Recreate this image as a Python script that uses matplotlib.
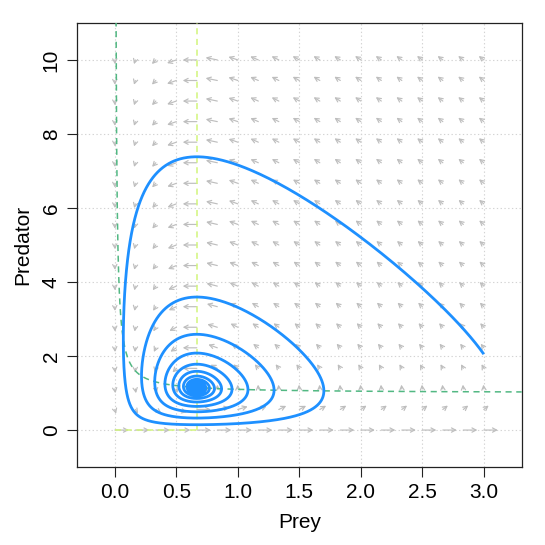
import numpy as np
import matplotlib
matplotlib.use("Agg")
import matplotlib.pyplot as plt
from matplotlib.patches import FancyArrowPatch

plt.rcParams['font.family'] = ['Liberation Sans', 'DejaVu Sans']

# ---- model (prey immigration Lotka-Volterra) ----
prey_growth = 1.0
predation = 1.0
prey_immigration = 0.1
pred_conversion = 3.0
pred_death = 2.0
start_state = [3.0, 2.05]
t_end = 60.0

# ---- axes / labels ----
x_ticks = [0.0, 0.5, 1.0, 1.5, 2.0, 2.5, 3.0]
x_tick_labels = ["0.0", "0.5", "1.0", "1.5", "2.0", "2.5", "3.0"]
y_ticks = [0, 2, 4, 6, 8, 10]
y_tick_labels = ["0", "2", "4", "6", "8", "10"]
x_label = "Prey"
y_label = "Predator"
field_x_range = [0.0, 3.0]
field_y_range = [0.0, 10.0]
field_points = 19


def deriv(s):
    x, y = s
    dx = prey_growth * x - predation * x * y + prey_immigration
    dy = pred_conversion * x * y - pred_death * y
    return np.array([dx, dy])


def rk4(s0, t1, h=0.002):
    s = np.array(s0, float)
    out = [s.copy()]
    for _ in range(int(t1 / h)):
        k1 = deriv(s)
        k2 = deriv(s + h / 2 * k1)
        k3 = deriv(s + h / 2 * k2)
        k4 = deriv(s + h * k3)
        s = s + h / 6 * (k1 + 2 * k2 + 2 * k3 + k4)
        out.append(s.copy())
    return np.array(out)


fig = plt.figure(figsize=(5.45, 5.45), dpi=100)
ax = fig.add_axes([77.3 / 545, 1 - 466.7 / 545, (521.7 - 77.3) / 545, (466.7 - 23.3) / 545])
ax.set_xlim(-0.305, 3.308)
ax.set_ylim(-0.99, 10.99)

# grid
for xv in x_ticks:
    ax.axvline(xv, color='#d3d3d3', lw=0.8, ls=(0, (1.2, 2.2)), zorder=1)
for yv in y_ticks:
    ax.axhline(yv, color='#d3d3d3', lw=0.8, ls=(0, (1.2, 2.2)), zorder=1)

# flow field (equal-length arrows in data units)
L = 0.114
for xv in np.linspace(field_x_range[0], field_x_range[1], field_points):
    for yv in np.linspace(field_y_range[0], field_y_range[1], field_points):
        d = deriv((xv, yv))
        n = np.hypot(d[0], d[1])
        if n == 0:
            continue
        u = d / n * L
        arr = FancyArrowPatch((xv, yv), (xv + u[0], yv + u[1]),
                              arrowstyle='->,head_length=0.42,head_width=0.22',
                              mutation_scale=7, color='#bebebe', lw=0.85,
                              shrinkA=0, shrinkB=0, zorder=2)
        ax.add_patch(arr)

# nullclines
xs = np.linspace(0.009, 3.308, 600)
ax.plot(xs, (prey_growth * xs + prey_immigration) / (predation * xs),
        color='#52b883', lw=1.1, ls=(0, (4, 3)), zorder=3)
xstar = pred_death / pred_conversion
ax.plot([xstar, xstar], [0, 10.99], color='#d2f57c', lw=1.1, ls=(0, (4, 3)), zorder=3)
ax.plot([0, xstar], [0, 0], color='#d2f57c', lw=1.1, ls=(0, (4, 3)), zorder=3)

# trajectory
traj = rk4(start_state, t_end)
ax.plot(traj[:, 0], traj[:, 1], color='#1e90ff', lw=2.0, zorder=4,
        solid_capstyle='butt')

ax.set_xticks(x_ticks)
ax.set_xticklabels(x_tick_labels)
ax.set_yticks(y_ticks)
ax.set_yticklabels(y_tick_labels, rotation=90, va='center')
ax.tick_params(direction='out', length=7, width=0.8, labelsize=15, pad=5,
               colors='#222222')
ax.tick_params(axis='x', labelcolor='black')
ax.tick_params(axis='y', labelcolor='black')
for sp in ax.spines.values():
    sp.set_linewidth(0.9)
    sp.set_color('#222222')
ax.set_xlabel(x_label, fontsize=15, labelpad=8)
ax.set_ylabel(y_label, fontsize=15, labelpad=7)

fig.savefig('out.png', dpi=100)
